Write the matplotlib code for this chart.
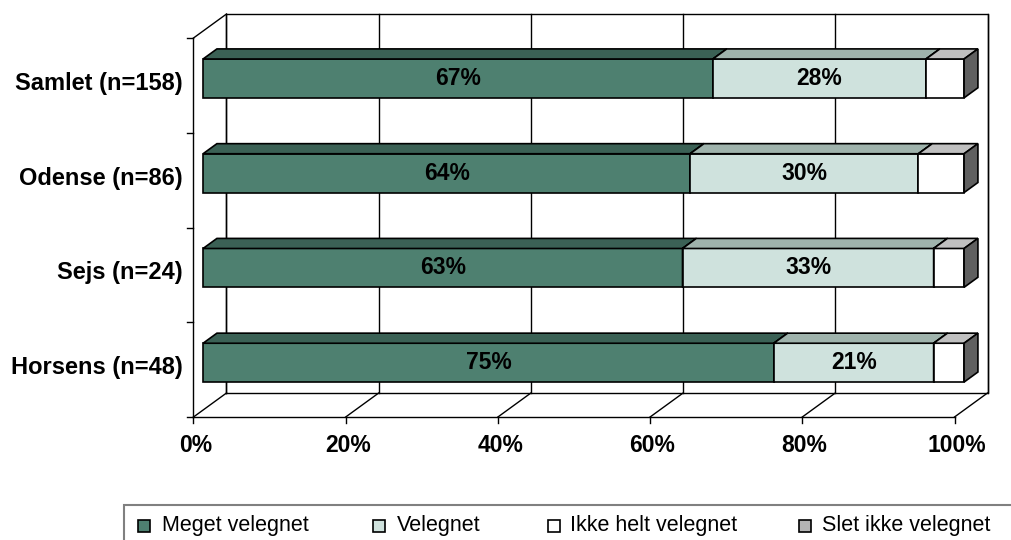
import matplotlib
matplotlib.use("Agg")
import matplotlib.pyplot as plt
from matplotlib.patches import Polygon, Rectangle

plt.rcParams['font.family'] = ['Liberation Sans', 'DejaVu Sans']

# ---- data (top to bottom as displayed) ----
categories = ['Samlet (n=158)', 'Odense (n=86)', 'Sejs (n=24)', 'Horsens (n=48)']
meget_velegnet = [67, 64, 63, 75]
velegnet = [28, 30, 33, 21]
ikke_helt_velegnet = [5, 6, 4, 4]
slet_ikke_velegnet = [0, 0, 0, 0]
series_names = ['Meget velegnet', 'Velegnet', 'Ikke helt velegnet', 'Slet ikke velegnet']
xticks = [0, 20, 40, 60, 80, 100]
xtick_labels = ['0%', '20%', '40%', '60%', '80%', '100%']

# ---- styles ----
front_cols = ['#4E8070', '#CFE2DD', '#FFFFFF', '#B4B4B4']
top_cols = ['#3B6155', '#9FB3AC', '#C0C0C0', '#8A8A8A']
side_cols = ['#2E4C43', '#7E918B', '#606060', '#5A5A5A']

W, H = 1012, 540
fig = plt.figure(figsize=(W / 100, H / 100), dpi=100)
x0p, x1p = 193.5, 954.5
ytop, ybot = 38, 417
ax = fig.add_axes([x0p / W, (H - ybot) / H, (x1p - x0p) / W, (ybot - ytop) / H])
ax.set_xlim(0, 100)
ax.set_ylim(0, 4)
ax.axis('off')

pxx = (x1p - x0p) / 100.0
pxy = (ybot - ytop) / 4.0
DX = 33 / pxx
DY = 24 / pxy


def P(x, y, z):
    return (x + z * DX, y + z * DY)


lc = 'black'
lw = 1.0
# back wall
ax.plot(*zip(P(0, 0, 1), P(0, 4, 1), P(100, 4, 1), P(100, 0, 1), P(0, 0, 1)),
        color=lc, lw=lw, clip_on=False, zorder=1)
# gridlines on back wall and floor diagonals
for t in xticks:
    ax.plot(*zip(P(t, 0, 1), P(t, 4, 1)), color=lc, lw=lw, clip_on=False, zorder=1)
    ax.plot(*zip(P(t, 0, 0), P(t, 0, 1)), color=lc, lw=lw, clip_on=False, zorder=1)
# floor front (x axis) and left wall
ax.plot(*zip(P(0, 0, 0), P(100, 0, 0)), color=lc, lw=lw, clip_on=False, zorder=2)
ax.plot(*zip(P(0, 0, 0), P(0, 4, 0)), color=lc, lw=lw, clip_on=False, zorder=2)
ax.plot(*zip(P(0, 4, 0), P(0, 4, 1)), color=lc, lw=lw, clip_on=False, zorder=2)
# ticks
for t, lab in zip(xticks, xtick_labels):
    ax.plot([t, t], [0, -6 / pxy], color=lc, lw=lw, clip_on=False, zorder=2)
    ax.text(t + 0.3, -28 / pxy, lab, ha='center', va='center',
            fontsize=16.5, fontweight='bold')
for k in range(5):
    ax.plot([0, -6 / pxx], [k, k], color=lc, lw=lw, clip_on=False, zorder=2)

# bars
n = len(categories)
z0, z1 = 0.29, 0.71
bh = 0.41
series = [meget_velegnet, velegnet, ikke_helt_velegnet, slet_ikke_velegnet]
zo = 5
for i, cat in enumerate(categories):
    c = n - 1 - i + 0.5
    yb, yt = c - bh / 2, c + bh / 2
    left = 0
    for s, vals in enumerate(series):
        v = vals[i]
        if v <= 0:
            continue
        xa, xb = left, left + v
        front = [P(xa, yb, z0), P(xb, yb, z0), P(xb, yt, z0), P(xa, yt, z0)]
        top = [P(xa, yt, z0), P(xb, yt, z0), P(xb, yt, z1), P(xa, yt, z1)]
        side = [P(xb, yb, z0), P(xb, yt, z0), P(xb, yt, z1), P(xb, yb, z1)]
        for poly, col in ((front, front_cols[s]), (top, top_cols[s]), (side, side_cols[s])):
            ax.add_patch(Polygon(poly, closed=True, facecolor=col, edgecolor='black',
                                 lw=1.2, joinstyle='miter', clip_on=False, zorder=zo))
            zo += 1
        if s < 2:
            cx, cy = P((xa + xb) / 2, c, z0)
            ax.text(cx, cy, f'{v}%', ha='center', va='center', fontsize=16.5,
                    fontweight='bold', zorder=200)
        left = xb
    ax.text(-10.5 / pxx, c + 0.02, cat, ha='right', va='center', fontsize=17,
            fontweight='bold')

# legend (manual, partly beyond the figure edge as in the reference)
def fx(x):
    return x / W


def fy(y):
    return 1 - y / H


fig.add_artist(Rectangle((fx(124), fy(560)), fx(1100 - 124), (560 - 505) / H,
                         facecolor='none', edgecolor='#808080', lw=1.5,
                         transform=fig.transFigure, clip_on=False))
sq_x = [138, 373, 548, 799]
txt_x = [162, 397, 570, 822]
for k, name in enumerate(series_names):
    fig.add_artist(Rectangle((fx(sq_x[k]), fy(532)), 12 / W, 12 / H,
                             facecolor=front_cols[k], edgecolor='black', lw=1.2,
                             transform=fig.transFigure))
    fig.text(fx(txt_x[k]), fy(526), name, ha='left', va='center', fontsize=15.5)

fig.savefig('out.png', dpi=100)
